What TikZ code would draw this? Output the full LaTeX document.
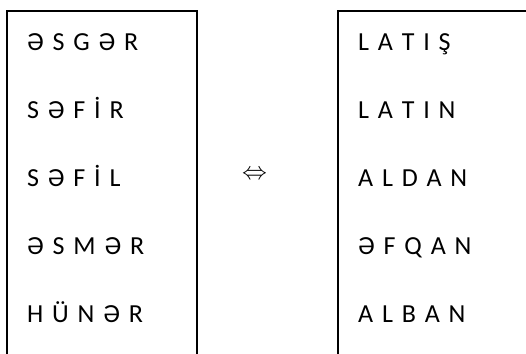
\documentclass[tikz,border=0pt]{standalone}
\usepackage{fontspec}
\setmainfont{Carlito}
\newfontfamily\wordfont[WordSpace=1.5]{Carlito}
\usepackage{amsmath,amssymb}
\usetikzlibrary{positioning}

\begin{document}
\begin{tikzpicture}[x=1pt,y=-1pt,word/.style={anchor=base west,inner sep=0pt,font=\wordfont\fontsize{26}{26}\selectfont}]
\useasboundingbox (0,0) rectangle (526,353);
\draw[line width=1.6pt] (7,356) -- (7,11) -- (197,11) -- (197,356);
\draw[line width=1.6pt] (338,356) -- (338,11) -- (532,11) -- (532,356);
\node[word] (l1) at (27,50) {Ə S G Ə R};
\node[word] (l2) at (27,118) {S Ə F İ R};
\node[word] (l3) at (27,186) {S Ə F İ L};
\node[word] (l4) at (27,254) {Ə S M Ə R};
\node[word] (l5) at (27,322) {H Ü N Ə R};
\node[word] (r1) at (358,50) {L A T I Ş};
\node[word] (r2) at (358,118) {L A T I N};
\node[word] (r3) at (358,186) {A L D A N};
\node[word] (r4) at (358,254) {Ə F Q A N};
\node[word] (r5) at (358,322) {A L B A N};
\node[inner sep=0pt] (eqv) at (254.5,175) {\fontsize{33}{33}\selectfont$\Leftrightarrow$};
\end{tikzpicture}
\end{document}
